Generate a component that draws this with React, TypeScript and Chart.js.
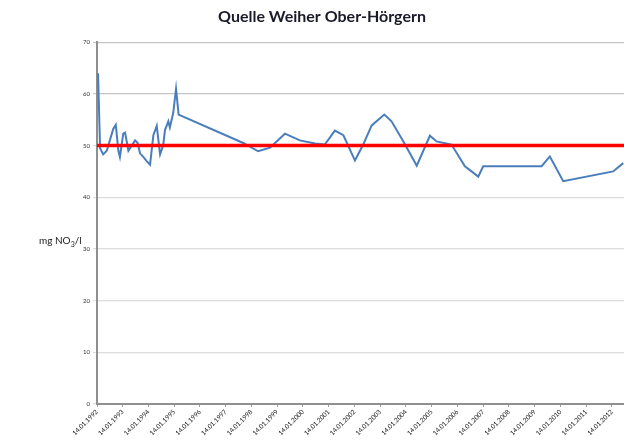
import React, { useEffect, useRef } from "react";
import { Chart, registerables } from "chart.js";

Chart.register(...registerables);

const chartTitle = "Quelle Weiher Ober-Hörgern";

// sampling dates as decimal years
const sampleYears = [
  1992.04, 1992.12, 1992.24, 1992.38, 1992.63, 1992.73, 1992.83, 1992.89,
  1993.02, 1993.09, 1993.22, 1993.35, 1993.48, 1993.58, 1993.67, 1993.8,
  1993.93, 1994.06, 1994.19, 1994.32, 1994.45, 1994.57, 1994.64, 1994.77,
  1994.83, 1994.96, 1995.07, 1995.17, 1997.68, 1998.26, 1998.72, 1999.3,
  1999.88, 2000.47, 2000.85, 2001.24, 2001.57, 2002.02, 2002.34, 2002.67,
  2003.16, 2003.44, 2003.9, 2004.42, 2004.93, 2005.19, 2005.77, 2006.29,
  2006.81, 2007.0, 2009.27, 2009.59, 2010.11, 2012.05, 2012.44,
];

// nitrate in mg NO3/l
const nitrateValues = [
  64, 49.5, 48.3, 49, 53.2, 54, 49, 47.8,
  52.3, 52.5, 49, 50, 51, 50.5, 48.5, 47.8,
  47, 46.3, 52, 53.8, 48.3, 50, 53, 54.7,
  53.5, 56.3, 61, 56, 50.5, 48.9, 49.6, 52.3,
  51.0, 50.4, 50.2, 52.9, 52.0, 47.1, 50.2, 53.9,
  56.0, 54.7, 50.8, 46.1, 51.9, 50.8, 50.2, 46.0,
  44.0, 46.0, 46.0, 47.9, 43.1, 45.0, 46.6,
];

const limitValue = 50;

const tickYears = [
  1992, 1993, 1994, 1995, 1996, 1997, 1998, 1999, 2000, 2001, 2002,
  2003, 2004, 2005, 2006, 2007, 2008, 2009, 2010, 2011, 2012,
];

const xMin = 1992;
const xMax = 2012.47;
const yMin = 0;
const yMax = 70;
const yStep = 10;

export default function App() {
  const canvasRef = useRef<HTMLCanvasElement>(null);

  useEffect(() => {
    if (!canvasRef.current) return;
    const chart = new Chart(canvasRef.current, {
      type: "line",
      data: {
        datasets: [
          {
            data: [
              { x: xMin, y: limitValue },
              { x: xMax, y: limitValue },
            ],
            borderColor: "#ff0000",
            borderWidth: 3.5,
            pointRadius: 0,
            tension: 0,
          },
          {
            data: sampleYears.map((x, i) => ({ x, y: nitrateValues[i] })),
            borderColor: "#4a7ebb",
            borderWidth: 2,
            pointRadius: 0,
            tension: 0,
          },
        ],
      },
      options: {
        animation: false,
        responsive: false,
        maintainAspectRatio: false,
        layout: { padding: { left: 20, right: 0, top: 0, bottom: 0 } },
        plugins: {
          legend: { display: false },
          tooltip: { enabled: false },
          title: {
            display: true,
            text: chartTitle,
            color: "#1a1a2a",
            font: { family: "Lato", size: 16, weight: "bold" },
            padding: { top: 7, bottom: 16 },
          },
        },
        scales: {
          x: {
            type: "linear",
            min: xMin,
            max: xMax,
            afterBuildTicks: (scale: any) => {
              scale.ticks = tickYears.map((v) => ({ value: v }));
            },
            afterFit: (scale: any) => {
              scale.height = 42;
            },
            grid: {
              drawOnChartArea: false,
              drawTicks: true,
              tickLength: 3,
              color: "#a0a0a0",
            },
            border: { color: "#8f8f8f", width: 2 },
            ticks: {
              autoSkip: false,
              minRotation: 45,
              maxRotation: 45,
              padding: 1,
              color: "#222222",
              font: { family: "Lato", size: 6.5 },
              callback: (v: any) => "14.01." + v,
            },
          },
          y: {
            min: yMin,
            max: yMax,
            afterFit: (scale: any) => {
              scale.width = 77;
            },
            grid: {
              color: (ctx: any) => (ctx.tick && ctx.tick.value >= 60 ? "#c4c4c4" : "#dcdcdc"),
              lineWidth: 1.2,
              drawTicks: true,
              tickLength: 4,
            },
            border: { color: "#8f8f8f", width: 2 },
            ticks: {
              stepSize: yStep,
              padding: 3,
              color: "#333333",
              font: { family: "Lato", size: 6 },
            },
          },
        },
      },
    });
    return () => chart.destroy();
  }, []);

  return (
    <div style={{ position: "absolute", left: 0, top: 0, width: 624, height: 446, background: "#fff" }}>
      <canvas ref={canvasRef} width={624} height={446} style={{ display: "block" }} />
      <div
        style={{
          position: "absolute",
          left: 39,
          top: 233,
          fontFamily: "Lato",
          fontSize: 10,
          color: "#222",
          whiteSpace: "nowrap",
          lineHeight: "14px",
        }}
      >
        mg NO<sub style={{ fontSize: 7 }}>3</sub>/l
      </div>
    </div>
  );
}
